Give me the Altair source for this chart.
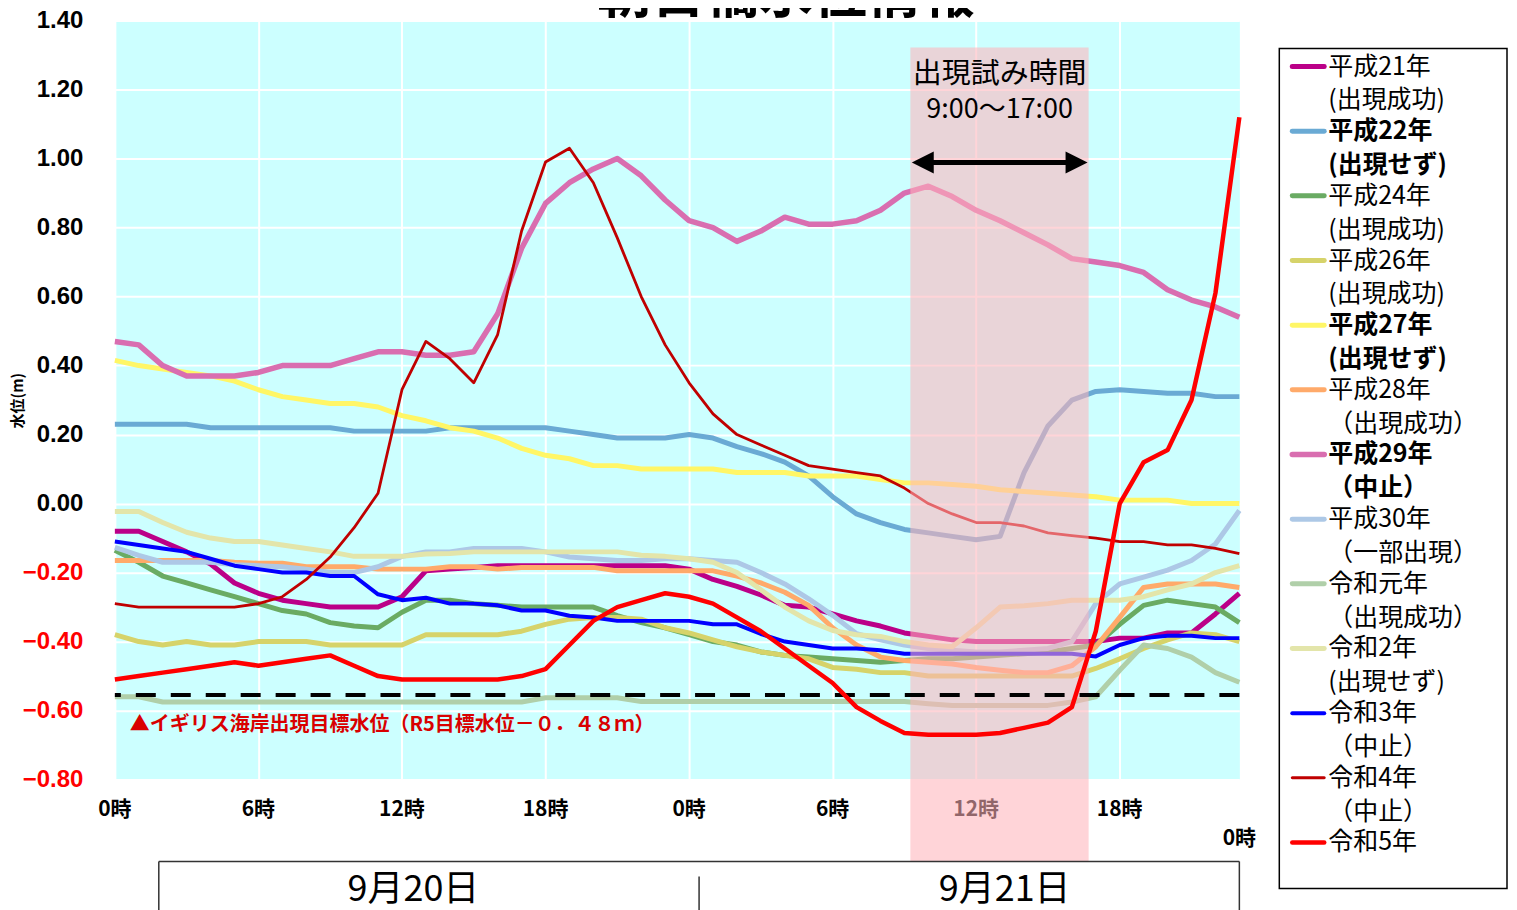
import altair as alt
import pandas as pd

# ---------------- data (hourly, 9/20 0時 .. 9/21 23時) ----------------
hours = list(range(48))

heisei21 = [-0.08, -0.08, -0.11, -0.14, -0.175, -0.23, -0.26, -0.28, -0.29, -0.30, -0.30, -0.30,
            -0.27, -0.195, -0.19, -0.185, -0.18, -0.18, -0.18, -0.18, -0.18, -0.18, -0.18, -0.18,
            -0.19, -0.22, -0.24, -0.265, -0.295, -0.30, -0.32, -0.34, -0.355, -0.375, -0.385, -0.395,
            -0.40, -0.40, -0.40, -0.40, -0.40, -0.40, -0.39, -0.39, -0.375, -0.375, -0.32, -0.26]
heisei22 = [0.23, 0.23, 0.23, 0.23, 0.22, 0.22, 0.22, 0.22, 0.22, 0.22, 0.21, 0.21,
            0.21, 0.21, 0.22, 0.22, 0.22, 0.22, 0.22, 0.21, 0.20, 0.19, 0.19, 0.19,
            0.20, 0.19, 0.165, 0.145, 0.12, 0.08, 0.02, -0.03, -0.055, -0.075, -0.085, -0.095,
            -0.105, -0.095, 0.09, 0.225, 0.30, 0.325, 0.33, 0.325, 0.32, 0.32, 0.31, 0.31]
heisei24 = [-0.135, -0.17, -0.21, -0.23, -0.25, -0.27, -0.29, -0.31, -0.32, -0.345, -0.355, -0.36,
            -0.315, -0.28, -0.28, -0.29, -0.295, -0.30, -0.30, -0.30, -0.30, -0.325, -0.345, -0.36,
            -0.38, -0.40, -0.41, -0.43, -0.44, -0.445, -0.45, -0.455, -0.46, -0.455, -0.45, -0.45,
            -0.445, -0.44, -0.435, -0.43, -0.42, -0.41, -0.35, -0.295, -0.28, -0.29, -0.30, -0.345]
heisei26 = [-0.38, -0.40, -0.41, -0.40, -0.41, -0.41, -0.40, -0.40, -0.40, -0.41, -0.41, -0.41,
            -0.41, -0.38, -0.38, -0.38, -0.38, -0.37, -0.35, -0.335, -0.33, -0.33, -0.335, -0.36,
            -0.375, -0.395, -0.415, -0.43, -0.44, -0.45, -0.475, -0.48, -0.49, -0.49, -0.50, -0.50,
            -0.50, -0.50, -0.50, -0.50, -0.50, -0.478, -0.45, -0.42, -0.395, -0.375, -0.38, -0.40]
heisei27 = [0.415, 0.40, 0.39, 0.38, 0.37, 0.355, 0.33, 0.31, 0.30, 0.29, 0.29, 0.28,
            0.255, 0.24, 0.22, 0.21, 0.19, 0.16, 0.14, 0.13, 0.11, 0.11, 0.10, 0.10,
            0.10, 0.10, 0.09, 0.09, 0.09, 0.08, 0.08, 0.08, 0.07, 0.06, 0.06, 0.055,
            0.05, 0.04, 0.035, 0.03, 0.025, 0.02, 0.01, 0.01, 0.01, 0.00, 0.00, 0.00]
heisei28 = [-0.165, -0.165, -0.165, -0.165, -0.165, -0.17, -0.173, -0.173, -0.183, -0.183, -0.183, -0.19,
            -0.19, -0.19, -0.183, -0.183, -0.19, -0.185, -0.185, -0.185, -0.185, -0.195, -0.195, -0.195,
            -0.195, -0.195, -0.21, -0.23, -0.257, -0.295, -0.36, -0.41, -0.445, -0.455, -0.46, -0.465,
            -0.475, -0.483, -0.49, -0.49, -0.47, -0.415, -0.33, -0.243, -0.233, -0.233, -0.233, -0.243]
heisei29 = [0.47, 0.46, 0.40, 0.37, 0.37, 0.37, 0.38, 0.40, 0.40, 0.40, 0.42, 0.44,
            0.44, 0.43, 0.43, 0.44, 0.55, 0.74, 0.87, 0.93, 0.97, 1.00, 0.95, 0.88,
            0.82, 0.80, 0.76, 0.79, 0.83, 0.81, 0.81, 0.82, 0.85, 0.90, 0.92, 0.89,
            0.85, 0.82, 0.785, 0.75, 0.71, 0.70, 0.69, 0.67, 0.62, 0.59, 0.57, 0.54]
heisei30 = [-0.127, -0.15, -0.17, -0.17, -0.17, -0.177, -0.18, -0.183, -0.19, -0.20, -0.20, -0.183,
            -0.153, -0.14, -0.14, -0.13, -0.13, -0.13, -0.14, -0.155, -0.16, -0.165, -0.165, -0.16,
            -0.16, -0.165, -0.17, -0.20, -0.233, -0.276, -0.324, -0.377, -0.395, -0.41, -0.42, -0.425,
            -0.43, -0.43, -0.425, -0.42, -0.40, -0.29, -0.233, -0.213, -0.193, -0.165, -0.117, -0.02]
reiwa1 = [-0.56, -0.56, -0.575, -0.575, -0.575, -0.575, -0.575, -0.575, -0.575, -0.575, -0.575, -0.575,
          -0.575, -0.575, -0.575, -0.575, -0.575, -0.575, -0.563, -0.563, -0.563, -0.563, -0.574, -0.574,
          -0.574, -0.574, -0.574, -0.574, -0.574, -0.574, -0.574, -0.574, -0.574, -0.574, -0.58, -0.585,
          -0.585, -0.585, -0.585, -0.585, -0.575, -0.56, -0.483, -0.41, -0.42, -0.445, -0.49, -0.518]
reiwa2 = [-0.023, -0.023, -0.055, -0.083, -0.10, -0.11, -0.11, -0.12, -0.13, -0.14, -0.153, -0.153,
          -0.153, -0.146, -0.145, -0.14, -0.14, -0.14, -0.14, -0.14, -0.14, -0.14, -0.15, -0.153,
          -0.16, -0.17, -0.20, -0.25, -0.30, -0.34, -0.368, -0.38, -0.385, -0.40, -0.41, -0.415,
          -0.36, -0.30, -0.296, -0.29, -0.28, -0.28, -0.28, -0.27, -0.25, -0.233, -0.20, -0.18]
reiwa3 = [-0.11, -0.12, -0.13, -0.14, -0.16, -0.18, -0.19, -0.20, -0.20, -0.21, -0.21, -0.263,
          -0.28, -0.273, -0.29, -0.29, -0.295, -0.31, -0.31, -0.325, -0.33, -0.34, -0.34, -0.34,
          -0.34, -0.35, -0.35, -0.378, -0.40, -0.41, -0.42, -0.42, -0.425, -0.435, -0.435, -0.435,
          -0.435, -0.435, -0.435, -0.435, -0.435, -0.443, -0.41, -0.39, -0.383, -0.383, -0.39, -0.39]
reiwa4 = [-0.29, -0.30, -0.30, -0.30, -0.30, -0.30, -0.29, -0.27, -0.22, -0.155, -0.07, 0.03,
          0.33, 0.47, 0.42, 0.35, 0.49, 0.79, 0.99, 1.03, 0.93, 0.77, 0.60, 0.46,
          0.35, 0.26, 0.20, 0.17, 0.14, 0.11, 0.10, 0.09, 0.08, 0.045, 0.00, -0.03,
          -0.055, -0.055, -0.065, -0.085, -0.093, -0.10, -0.11, -0.11, -0.12, -0.12, -0.13, -0.145]
reiwa5 = [-0.51, -0.50, -0.49, -0.48, -0.47, -0.46, -0.47, -0.46, -0.45, -0.44, -0.47, -0.50,
          -0.51, -0.51, -0.51, -0.51, -0.51, -0.50, -0.48, -0.41, -0.34, -0.30, -0.28, -0.26,
          -0.27, -0.29, -0.33, -0.37, -0.42, -0.47, -0.52, -0.59, -0.63, -0.665, -0.67, -0.67,
          -0.67, -0.665, -0.65, -0.635, -0.59, -0.37, 0.00, 0.12, 0.155, 0.30, 0.61, 1.12]

names = ["平成21年", "平成22年", "平成24年", "平成26年", "平成27年", "平成28年", "平成29年",
         "平成30年", "令和元年", "令和2年", "令和3年", "令和4年", "令和5年"]
values = [heisei21, heisei22, heisei24, heisei26, heisei27, heisei28, heisei29,
          heisei30, reiwa1, reiwa2, reiwa3, reiwa4, reiwa5]
sub_labels = ["(出現成功)", "(出現せず)", "(出現成功)", "(出現成功)", "(出現せず)", "（出現成功）",
              "（中止）", "（一部出現）", "（出現成功）", "(出現せず)", "（中止）", "（中止）", ""]
bold_items = [False, True, False, False, True, False, True, False, False, False, False, False, False]

tick_hours = [0, 6, 12, 18, 24, 30, 36, 42]
tick_labels = ["0時", "6時", "12時", "18時", "0時", "6時", "12時", "18時"]
end_hour = [47]
end_label = ["0時"]
y_ticks = [-0.8, -0.6, -0.4, -0.2, 0.0, 0.2, 0.4, 0.6, 0.8, 1.0, 1.2, 1.4]
target_level = [-0.555]
window_start = [33.25]
window_end = [40.7]
dates = ["9月20日", "9月21日"]

# ---------------- styles ----------------
colors = ["#BB0088", "#6AAAD4", "#6AAB63", "#D6D36A", "#FFF666", "#FFAA6A", "#D96EB0",
          "#ADC8E6", "#B0CFA9", "#E3E5AA", "#0000FF", "#C00000", "#FF0000"]
widths = [5, 5, 5, 5, 5, 5, 5.5, 5, 5, 5, 4, 2.8, 4.5]

JP = "Noto Sans CJK JP"
NUM = "Liberation Sans, Arial"
W, H = 1126, 760
X0, Y0 = 115, 20  # page position of the plot origin


def px(x):
    return x - X0


def py(y):
    return y - Y0


xs = alt.Scale(domain=[0, 47], nice=False, zero=False)
ys = alt.Scale(domain=[-0.8, 1.4], nice=False, zero=False)

xaxis = alt.Axis(values=tick_hours, labels=False, ticks=False, domain=False, grid=True,
                 gridColor="white", gridWidth=2, title="")
yaxis = alt.Axis(values=y_ticks, format=".2f", labelFont=NUM, labelFontSize=24,
                 labelFontWeight="bold",
                 labelColor={"condition": {"test": "datum.value < 0", "value": "#FF0000"},
                             "value": "#000000"},
                 domain=False, ticks=False, tickSize=0, labelPadding=32,
                 grid=True, gridColor="white", gridWidth=2,
                 title="水位(m)", titleFont=JP, titleFontSize=15, titleFontWeight="bold",
                 titleX=-97, titleY=380, titleAngle=270, titleAlign="center",
                 titleBaseline="middle", titleColor="black")

rows = []
for name, vals in zip(names, values):
    for h, v in zip(hours, vals):
        rows.append({"series": name, "hour": h, "level": v})
df = pd.DataFrame(rows)
base = alt.Chart(df)

enc_x = alt.X("hour:Q", scale=xs, axis=xaxis)
enc_y = alt.Y("level:Q", scale=ys, axis=yaxis)


def line_layer(i):
    return base.transform_filter(alt.datum.series == names[i]).mark_line(
        color=colors[i], strokeWidth=widths[i], strokeJoin="round"
    ).encode(x=enc_x, y=enc_y)


layers = [line_layer(i) for i in range(len(names) - 1)]

# x tick labels (drawn before the pink band so that the band covers 12時)
tick_df = pd.DataFrame({"hour": tick_hours, "label": tick_labels})
layers.append(alt.Chart(tick_df).mark_text(font=JP, fontSize=21, fontWeight="bold",
                                           color="black", align="center", baseline="middle")
              .encode(x=enc_x, y=alt.value(py(810)), text="label:N"))
end_df = pd.DataFrame({"hour": end_hour, "label": end_label})
layers.append(alt.Chart(end_df).mark_text(font=JP, fontSize=21, fontWeight="bold",
                                          color="black", align="center", baseline="middle")
              .encode(x=enc_x, y=alt.value(py(840)), text="label:N"))

# pink "trial time" band
win_df = pd.DataFrame({"start": window_start, "end": window_end})
layers.append(alt.Chart(win_df).mark_rect(color="#FFB3BA", opacity=0.57).encode(
    x=alt.X("start:Q", scale=xs, axis=xaxis), x2="end:Q",
    y=alt.value(py(47)), y2=alt.value(py(862))))

# target level dashed line
tgt_df = pd.DataFrame({"level": target_level})
layers.append(alt.Chart(tgt_df).mark_rule(color="black", strokeWidth=4, strokeDash=[20, 15])
              .encode(y=alt.Y("level:Q", scale=ys, axis=yaxis)))

# 令和5年 on top
layers.append(line_layer(len(names) - 1))

deco = alt.Chart(pd.DataFrame({"k": [0]}))

# annotations
layers.append(deco.mark_text(text="出現試み時間", font=JP, fontSize=29, color="black",
                             align="center", baseline="middle")
              .encode(x=alt.value(px(1001)), y=alt.value(py(73))))
layers.append(deco.mark_text(text="9:00〜17:00", font=JP, fontSize=27, color="black",
                             align="center", baseline="middle")
              .encode(x=alt.value(px(1001)), y=alt.value(py(110))))
layers.append(deco.mark_rule(color="black", strokeWidth=5)
              .encode(x=alt.value(px(930)), x2=alt.value(px(1072)), y=alt.value(py(162))))
layers.append(deco.mark_point(shape="M-1,0L1,-1L1,1Z", size=484, filled=True, color="black",
                              opacity=1, strokeWidth=0)
              .encode(x=alt.value(px(924)), y=alt.value(py(162))))
layers.append(deco.mark_point(shape="M1,0L-1,-1L-1,1Z", size=484, filled=True, color="black",
                              opacity=1, strokeWidth=0)
              .encode(x=alt.value(px(1078)), y=alt.value(py(162))))
layers.append(deco.mark_text(text="▲イギリス海岸出現目標水位（R5目標水位－０．４８ｍ）", font=JP,
                             fontSize=20, fontWeight="bold", color="#D90000",
                             align="left", baseline="middle")
              .encode(x=alt.value(px(130)), y=alt.value(py(725))))

# legend
layers.append(deco.mark_rect(fill="white", stroke="black", strokeWidth=1.5)
              .encode(x=alt.value(px(1281)), x2=alt.value(px(1509)),
                      y=alt.value(py(48)), y2=alt.value(py(889))))
for i, name in enumerate(names):
    yrow = 66 + i * 64.75
    fw = "bold" if bold_items[i] else "normal"
    layers.append(deco.mark_rule(color=colors[i], strokeWidth=max(widths[i], 3.5) if i != 11 else 3,
                                 strokeCap="round")
                  .encode(x=alt.value(px(1294)), x2=alt.value(px(1326)), y=alt.value(py(yrow))))
    layers.append(deco.mark_text(text=name, font=JP, fontSize=25, fontWeight=fw, color="black",
                                 align="left", baseline="middle")
                  .encode(x=alt.value(px(1330)), y=alt.value(py(yrow))))
    if sub_labels[i]:
        layers.append(deco.mark_text(text=sub_labels[i], font=JP, fontSize=25, fontWeight=fw,
                                     color="black", align="left", baseline="middle")
                      .encode(x=alt.value(px(1330)), y=alt.value(py(yrow + 34))))

# date boxes
layers.append(deco.mark_rule(color="#333333", strokeWidth=1.5)
              .encode(x=alt.value(px(159)), x2=alt.value(px(1241)), y=alt.value(py(862))))
layers.append(deco.mark_rule(color="#333333", strokeWidth=1.5)
              .encode(x=alt.value(px(159)), y=alt.value(py(862)), y2=alt.value(py(930))))
layers.append(deco.mark_rule(color="#333333", strokeWidth=1.5)
              .encode(x=alt.value(px(1241)), y=alt.value(py(862)), y2=alt.value(py(930))))
layers.append(deco.mark_rule(color="#333333", strokeWidth=1.5)
              .encode(x=alt.value(px(700)), y=alt.value(py(877)), y2=alt.value(py(930))))
layers.append(deco.mark_text(text=dates[0], font=JP, fontSize=36, color="black",
                             align="center", baseline="middle")
              .encode(x=alt.value(px(414)), y=alt.value(py(891))))
layers.append(deco.mark_text(text=dates[1], font=JP, fontSize=36, color="black",
                             align="center", baseline="middle")
              .encode(x=alt.value(px(1006)), y=alt.value(py(891))))

# title (cut at the top, as in the reference)
layers.append(deco.mark_text(text="朝日橋水位情報", font=JP, fontSize=54, fontWeight="bold",
                             color="black", align="center", baseline="alphabetic")
              .encode(x=alt.value(px(787)), y=alt.value(py(12))))

total_w, total_h = 1503, 902
chart = alt.layer(*layers).properties(
    width=W, height=H,
    padding={"left": X0 - 8, "top": Y0 - 8,
             "right": total_w - (X0 - 8) - W, "bottom": total_h - (Y0 - 8) - H},
    autosize=alt.AutoSizeParams(type="none"),
    background="white",
).configure_view(fill="#CCFFFF", stroke="transparent")

chart.save("out.html", embed_options={"renderer": "svg", "actions": False})
